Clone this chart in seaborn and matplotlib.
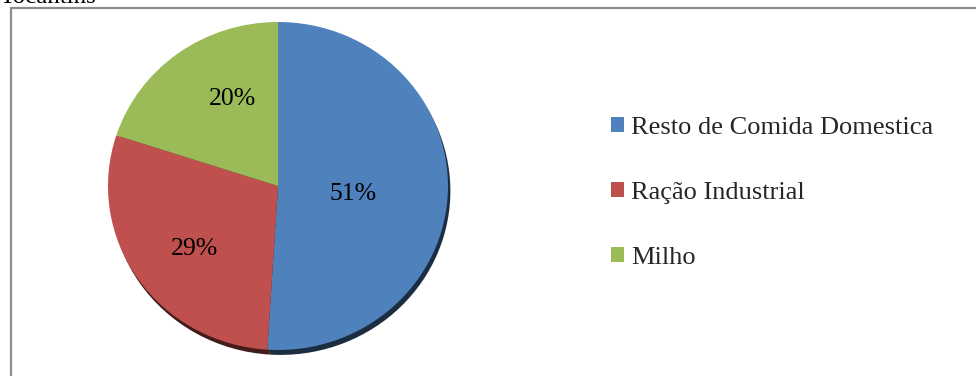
import numpy as np
import matplotlib
matplotlib.use("Agg")
import matplotlib.pyplot as plt
import seaborn as sns
from matplotlib.patches import Rectangle
import matplotlib.colors as mcolors

categories = ["Resto de Comida Domestica", "Ração Industrial", "Milho"]
values = [51, 29, 20]
labels_pct = ["51%", "29%", "20%"]
colors = ["#4F81BD", "#C0504D", "#9BBB59"]
title_cut = "Tocantins"

sns.set_theme(style="white")
plt.rcParams["font.family"] = ["Liberation Serif", "DejaVu Serif"]

W, H = 976, 376
fig = plt.figure(figsize=(W / 100, H / 100), dpi=100)
fig.patch.set_facecolor("white")

# outer frame (cut by the image border on right/bottom)
fig.patches.append(Rectangle((10.5 / W, -0.1), 1.1, (H - 8.0) / H + 0.1,
                             transform=fig.transFigure, fill=False,
                             edgecolor="#8c8c8c", linewidth=1.6))
fig.text(0 / W, (H - 3) / H, title_cut, fontsize=18, va="baseline", ha="left",
         color="black", family="Liberation Serif")

ax = fig.add_axes([108 / W, (H - 350) / H, 340 / W, 328 / H])
ax.axis("off")

shadow_cols = [tuple(np.array(mcolors.to_rgb(c)) * 0.35) for c in colors]
ax.pie(values, colors=shadow_cols, startangle=90, counterclock=False,
       radius=1.0, center=(0.014, -0.03), frame=False,
       wedgeprops=dict(linewidth=0))
wedges, _ = ax.pie(values, colors=colors, startangle=90, counterclock=False,
                   radius=1.0, center=(0, 0), frame=False,
                   wedgeprops=dict(linewidth=0))
ax.set_aspect("auto")
ax.set_xlim(-1, 1)
ax.set_ylim(-1, 1)

# label placement: radial distance and angular shift from each wedge's middle
dists = [0.445, 0.62, 0.595]
dangles = [-4.5, 3.8, -9.0]
for w, lab, d, da in zip(wedges, labels_pct, dists, dangles):
    ang = np.deg2rad((w.theta1 + w.theta2) / 2 + da)
    ax.text(d * np.cos(ang), d * np.sin(ang), lab, ha="center",
            va="center", fontsize=18.5, color="black", family="Liberation Serif")

handles = [Rectangle((0, 0), 1, 1, facecolor=c, edgecolor="none") for c in colors]
fig.legend(handles, categories, loc="center left",
           bbox_to_anchor=(611 / W, (H - 193) / H), frameon=False,
           prop=dict(family="Liberation Serif", size=19),
           handlelength=0.5, handleheight=0.5,
           handletextpad=0.25, labelspacing=1.62, borderpad=0,
           borderaxespad=0)

fig.savefig("out.png", dpi=100, facecolor="white")
